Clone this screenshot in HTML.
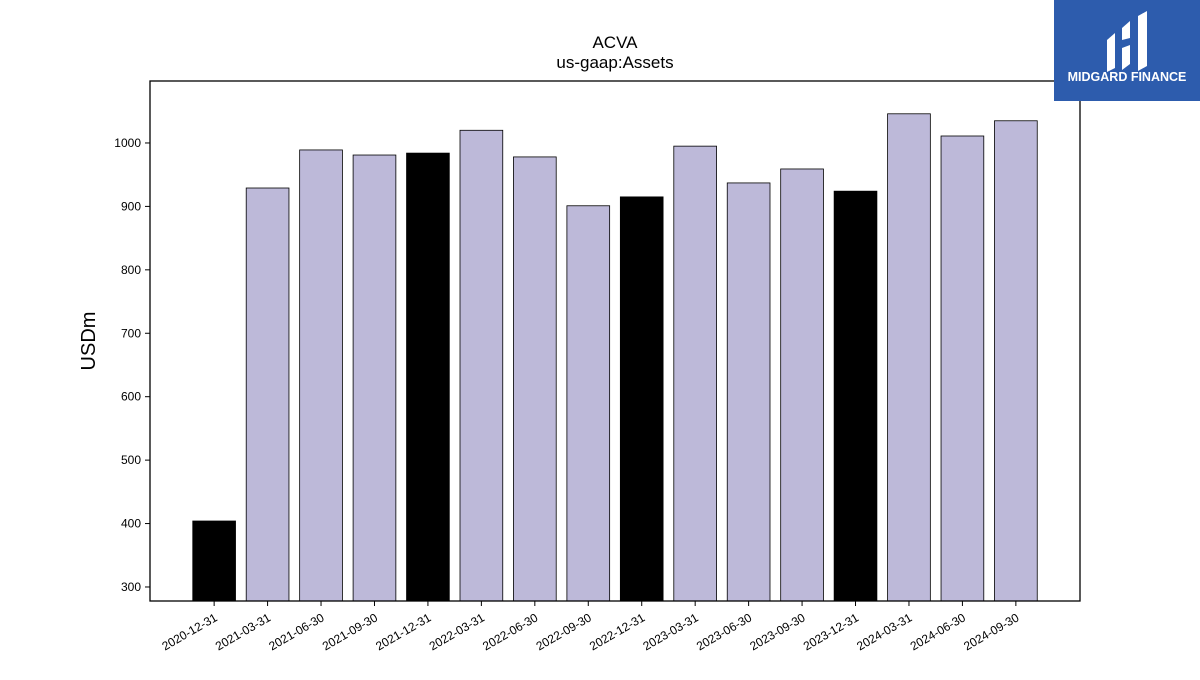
<!DOCTYPE html>
<html><head><meta charset="utf-8"><style>
body{margin:0;background:#fff;width:1200px;height:675px;overflow:hidden;font-family:"Liberation Sans","DejaVu Sans",sans-serif}
</style></head><body>
<svg id="chart" width="1200" height="675" xmlns="http://www.w3.org/2000/svg">
<text x="615" y="48" text-anchor="middle" font-size="17">ACVA</text>
<text x="615" y="68" text-anchor="middle" font-size="17">us-gaap:Assets</text>
<text transform="translate(95,341) rotate(-90)" text-anchor="middle" font-size="20">USDm</text>
<g id="bars"></g><g id="yticks"></g><g id="xticks"></g>
<rect x="150" y="81" width="930" height="520" fill="none" stroke="#000" stroke-width="1.3"/>
<g>
<rect x="1054" y="0" width="146" height="101" fill="#2d5cad"/>
<path d="M1107 40 L1115 33 L1115 68 L1107 72 Z" fill="#fff"/>
<path d="M1122 28 L1130 21 L1130 38 L1122 40 Z M1122 48 L1130 45 L1130 64 L1122 70 Z" fill="#fff"/>
<path d="M1138 16 L1147 11 L1147 66 L1138 71 Z" fill="#fff"/>
<text x="1127" y="81" text-anchor="middle" font-size="12.5" font-weight="bold" fill="#fff">MIDGARD FINANCE</text>
</g>
</svg>
<script>
const categories=["2020-12-31","2021-03-31","2021-06-30","2021-09-30","2021-12-31","2022-03-31","2022-06-30","2022-09-30","2022-12-31","2023-03-31","2023-06-30","2023-09-30","2023-12-31","2024-03-31","2024-06-30","2024-09-30"];
const values=[404,929,989,981,984,1020,978,901,915,995,937,959,924,1046,1011,1035];
const yTicks=[300,400,500,600,700,800,900,1000];
const NS="http://www.w3.org/2000/svg";
const yMin=277.9,yMax=1097.7,pTop=81,pBot=601,pLeft=150,pRight=1080;
const y=v=>pBot-(v-yMin)/(yMax-yMin)*(pBot-pTop);
const x=i=>pLeft+(i+1.2)/17.4*(pRight-pLeft);
const bw=0.8/17.4*(pRight-pLeft);
function mk(t,a,p){const e=document.createElementNS(NS,t);for(const k in a)e.setAttribute(k,a[k]);p.appendChild(e);return e;}
const gb=document.getElementById('bars'),gy=document.getElementById('yticks'),gx=document.getElementById('xticks');
values.forEach((v,i)=>{
 const r=mk('rect',{x:x(i)-bw/2,y:y(v),width:bw,height:pBot-y(v),fill:categories[i].endsWith('12-31')?'#000':'#bdb9d9',stroke:'#000','stroke-width':0.8},gb);
 
 
 const tk=mk('line',{x1:x(i),x2:x(i),y1:pBot,y2:pBot+5,stroke:'#000'},gx);
 
 
 const tx=mk('text',{transform:`translate(${x(i)+4},${pBot+19}) rotate(-30)`,'text-anchor':'end','font-size':12},gx);
 
 
 tx.textContent=categories[i];
});
yTicks.forEach(v=>{
 const tk=mk('line',{x1:pLeft-5,x2:pLeft,y1:y(v),y2:y(v),stroke:'#000'},gy);
 
 
 const tx=mk('text',{x:pLeft-9,y:y(v)+4,'text-anchor':'end','font-size':12},gy);
 
 
 tx.textContent=v;
});
</script>
</body></html>
